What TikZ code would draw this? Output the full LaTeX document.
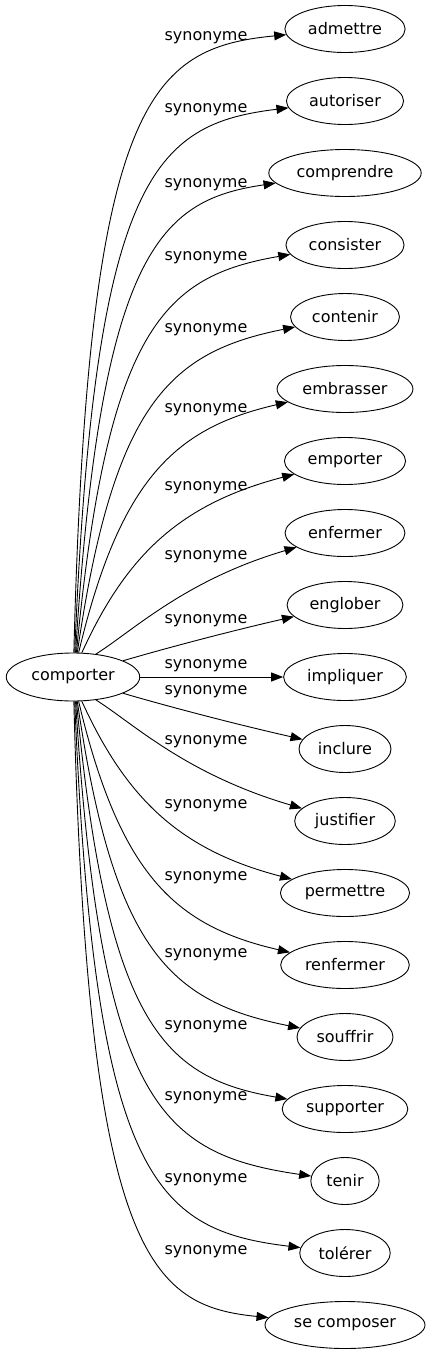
\documentclass[tikz,border=0pt]{standalone}
\usepackage{fontspec}
\setmainfont{DejaVu Sans}
\usepackage{tikz}
\usetikzlibrary{arrows.meta,shapes.geometric}

\begin{document}
\begin{tikzpicture}[x=1pt, y=-1pt,
    term/.style={ellipse, draw, line width=0.9pt, inner xsep=5.5pt, inner ysep=2pt, minimum height=47pt, font=\fontsize{16}{19}\selectfont},
    rel/.style={inner sep=0pt, font=\fontsize{16}{19}\selectfont},
    syn/.style={line width=0.9pt, -{Triangle[length=12pt, width=9pt]}}
  ]
  \useasboundingbox (0,0) rectangle (428,1355);

  % Centre word
  \node[term, minimum height=48pt] (comporter) at (73,677) {comporter};

  % Synonyms, top to bottom
  \node[term] (admettre)   at (345,29)   {admettre};
  \node[term] (autoriser)  at (345,101)  {autoriser};
  \node[term] (comprendre) at (345,173)  {comprendre};
  \node[term] (consister)  at (345,245)  {consister};
  \node[term] (contenir)   at (345,317)  {contenir};
  \node[term] (embrasser)  at (345,389)  {embrasser};
  \node[term] (emporter)   at (345,461)  {emporter};
  \node[term] (enfermer)   at (345,533)  {enfermer};
  \node[term] (englober)   at (345,605)  {englober};
  \node[term] (impliquer)  at (345,677)  {impliquer};
  \node[term] (inclure)    at (345,749)  {inclure};
  \node[term] (justifier)  at (345,821)  {justifier};
  \node[term] (permettre)  at (345,893)  {permettre};
  \node[term] (renfermer)  at (345,965)  {renfermer};
  \node[term] (souffrir)   at (345,1037) {souffrir};
  \node[term] (supporter)  at (345,1109) {supporter};
  \node[term] (tenir)      at (345,1181) {tenir};
  \node[term] (tolerer)    at (345,1253) {tolérer};
  \node[term] (secomposer) at (345,1325) {se composer};

  % Edge labels
  \node[rel] (r-admettre)   at (206,38)   {synonyme};
  \node[rel] (r-autoriser)  at (206,110)  {synonyme};
  \node[rel] (r-comprendre) at (206,185)  {synonyme};
  \node[rel] (r-consister)  at (206,258)  {synonyme};
  \node[rel] (r-contenir)   at (206,330)  {synonyme};
  \node[rel] (r-embrasser)  at (206,410)  {synonyme};
  \node[rel] (r-emporter)   at (206,488)  {synonyme};
  \node[rel] (r-enfermer)   at (206,557)  {synonyme};
  \node[rel] (r-englober)   at (206,621)  {synonyme};
  \node[rel] (r-impliquer)  at (206,666)  {synonyme};
  \node[rel] (r-inclure)    at (206,692)  {synonyme};
  \node[rel] (r-justifier)  at (206,742)  {synonyme};
  \node[rel] (r-permettre)  at (206,806)  {synonyme};
  \node[rel] (r-renfermer)  at (206,878)  {synonyme};
  \node[rel] (r-souffrir)   at (206,955)  {synonyme};
  \node[rel] (r-supporter)  at (206,1027) {synonyme};
  \node[rel] (r-tenir)      at (206,1098) {synonyme};
  \node[rel] (r-tolerer)    at (206,1180) {synonyme};
  \node[rel] (r-secomposer) at (206,1252) {synonyme};

  % Edges, upper half
  \draw[syn] (comporter.88) .. controls (88,99) and (150,48) .. (admettre);
  \draw[syn] (comporter.86) .. controls (94.4,175) and (155,124) .. (autoriser);
  \draw[syn] (comporter.84) .. controls (100.8,251) and (160,200) .. (comprendre);
  \draw[syn] (comporter.82) .. controls (107.2,327) and (165,276) .. (consister);
  \draw[syn] (comporter.80) .. controls (113.6,403) and (170,352) .. (contenir);
  \draw[syn] (comporter.77) .. controls (120,479) and (175,428) .. (embrasser);
  \draw[syn] (comporter.70) .. controls (126.4,555) and (180,504) .. (emporter);
  \draw[syn] (comporter.45) .. controls (132.8,631) and (185,580) .. (enfermer);
  \draw[syn] (comporter.18) .. controls (170,647) and (235,630) .. (englober);
  \draw[syn] (comporter) -- (impliquer);

  % Edges, lower half
  \draw[syn] (comporter.-18) .. controls (170,707) and (235,724) .. (inclure);
  \draw[syn] (comporter.-45) .. controls (132.8,723) and (185,774) .. (justifier);
  \draw[syn] (comporter.-70) .. controls (126.4,799) and (180,850) .. (permettre);
  \draw[syn] (comporter.-77) .. controls (120,875) and (175,926) .. (renfermer);
  \draw[syn] (comporter.-80) .. controls (113.6,951) and (170,1002) .. (souffrir);
  \draw[syn] (comporter.-82) .. controls (107.2,1027) and (165,1078) .. (supporter);
  \draw[syn] (comporter.-84) .. controls (100.8,1103) and (160,1154) .. (tenir);
  \draw[syn] (comporter.-86) .. controls (94.4,1179) and (155,1230) .. (tolerer);
  \draw[syn] (comporter.-88) .. controls (88,1255) and (150,1306) .. (secomposer);
\end{tikzpicture}
\end{document}
